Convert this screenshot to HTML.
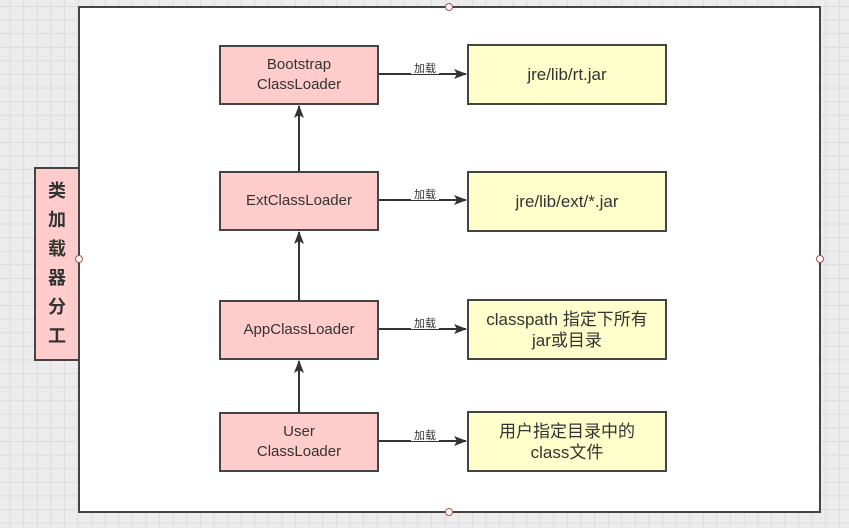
<!DOCTYPE html>
<html><head><meta charset="utf-8"><style>
body{margin:0;width:849px;height:528px;overflow:hidden;background-color:#ececec;
background-image:linear-gradient(#dcdcdc 1px,transparent 1px),linear-gradient(90deg,#dcdcdc 1px,transparent 1px);
background-size:13.6px 13.6px;background-position:-4px 6px;position:relative;
font-family:"Liberation Sans","Noto Sans CJK SC",sans-serif;}
.b{position:absolute;box-sizing:border-box;border:2px solid #444;display:flex;align-items:center;justify-content:center;text-align:center;color:#333;}
.p{background:#ffcccc;font-size:15px;line-height:20px;}
.y{background:#ffffcc;font-size:17px;line-height:21px;}
</style></head><body>
<div class="b" style="left:78px;top:6px;width:743px;height:507px;background:#fff;"></div>
<div class="b p" style="left:34px;top:167px;width:46px;height:194px;font-size:18px;font-weight:bold;line-height:29px;">类<br>加<br>载<br>器<br>分<br>工</div>
<div class="b p" style="left:219px;top:45px;width:160px;height:60px;">Bootstrap<br>ClassLoader</div>
<div class="b p" style="left:219px;top:171px;width:160px;height:60px;">ExtClassLoader</div>
<div class="b p" style="left:219px;top:300px;width:160px;height:60px;">AppClassLoader</div>
<div class="b p" style="left:219px;top:412px;width:160px;height:60px;">User<br>ClassLoader</div>
<div class="b y" style="left:467px;top:44px;width:200px;height:61px;">jre/lib/rt.jar</div>
<div class="b y" style="left:467px;top:171px;width:200px;height:61px;">jre/lib/ext/*.jar</div>
<div class="b y" style="left:467px;top:299px;width:200px;height:61px;">classpath 指定下所有<br>jar或目录</div>
<div class="b y" style="left:467px;top:411px;width:200px;height:61px;">用户指定目录中的<br>class文件</div>
<svg width="849" height="528" style="position:absolute;left:0;top:0" font-family="Liberation Sans,Noto Sans CJK SC,sans-serif">
<defs><marker id="a" markerWidth="13" markerHeight="10" refX="12" refY="5" orient="auto" markerUnits="userSpaceOnUse"><path d="M0,0L13,5L0,10L3,5z" fill="#333"/></marker></defs>
<g stroke="#333" stroke-width="2" fill="none">
<line x1="379" y1="74" x2="466" y2="74" marker-end="url(#a)"/>
<line x1="379" y1="200" x2="466" y2="200" marker-end="url(#a)"/>
<line x1="379" y1="329" x2="466" y2="329" marker-end="url(#a)"/>
<line x1="379" y1="441" x2="466" y2="441" marker-end="url(#a)"/>
<line x1="299" y1="171" x2="299" y2="106" marker-end="url(#a)"/>
<line x1="299" y1="300" x2="299" y2="232" marker-end="url(#a)"/>
<line x1="299" y1="412" x2="299" y2="361" marker-end="url(#a)"/>
</g>
<g font-size="11" fill="#333" text-anchor="middle">
<rect x="411" y="62" width="28" height="12" fill="#fff"/><text x="425" y="72">加载</text>
<rect x="411" y="188" width="28" height="12" fill="#fff"/><text x="425" y="198">加载</text>
<rect x="411" y="317" width="28" height="12" fill="#fff"/><text x="425" y="327">加载</text>
<rect x="411" y="429" width="28" height="12" fill="#fff"/><text x="425" y="439">加载</text>
</g>
<g fill="#fff" stroke="#b05050" stroke-width="1">
<circle cx="449" cy="7" r="3.5"/><circle cx="449" cy="512" r="3.5"/><circle cx="79" cy="259" r="3.5"/><circle cx="820" cy="259" r="3.5"/>
</g>
</svg>
</body></html>
